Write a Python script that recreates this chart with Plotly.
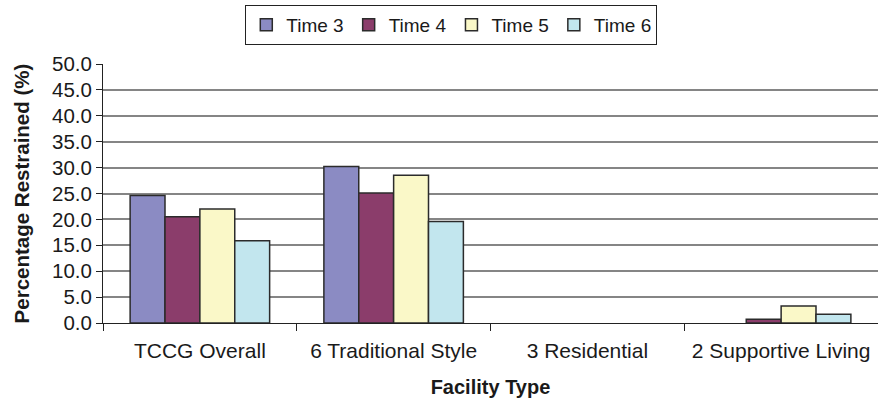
import plotly.graph_objects as go

categories = ["TCCG Overall", "6 Traditional Style", "3 Residential", "2 Supportive Living"]
series_names = ["Time 3", "Time 4", "Time 5", "Time 6"]
time3 = [24.6, 30.2, 0.0, 0.0]
time4 = [20.5, 25.1, 0.0, 0.7]
time5 = [22.0, 28.5, 0.0, 3.3]
time6 = [15.9, 19.6, 0.0, 1.7]
y_ticks = [0, 5, 10, 15, 20, 25, 30, 35, 40, 45, 50]

colors = ["#8B8BC3", "#8B3D6B", "#FAF8C8", "#C2E6EE"]
font = "Liberation Sans, Arial, sans-serif"

fig = go.Figure()
for name, vals, c in zip(series_names, [time3, time4, time5, time6], colors):
    fig.add_trace(go.Bar(
        x=categories, y=vals, name=name,
        marker=dict(color=c, line=dict(color="#2b2b2b",
                                       width=[1.5 if v > 0 else 0 for v in vals])),
    ))

fig.update_layout(
    width=878, height=403,
    margin=dict(l=103, r=0, t=64, b=80),
    paper_bgcolor="white", plot_bgcolor="white",
    barmode="group", bargap=0.28, bargroupgap=0,
    font=dict(family=font, size=20, color="#1a1a1a"),
    showlegend=True,
    legend=dict(
        orientation="h", xref="container", yref="container",
        x=0.514, xanchor="center", y=0.988, yanchor="top",
        bordercolor="#222", borderwidth=1, bgcolor="white",
        font=dict(family=font, size=19, color="#1a1a1a"),
        itemwidth=30, tracegroupgap=0,
    ),
    xaxis=dict(
        type="category", showline=True, linecolor="#222", linewidth=1,
        ticks="outside", tickson="boundaries", ticklen=7, tickcolor="#222",
        tickfont=dict(size=21), showgrid=False, ticklabelstandoff=9,
        title=dict(text="<b>Facility Type</b>", font=dict(size=20), standoff=18),
    ),
    yaxis=dict(
        range=[0, 50], tickvals=y_ticks, tickformat=".1f",
        showline=True, linecolor="#222", linewidth=1,
        ticks="outside", ticklen=6, tickcolor="#222",
        tickfont=dict(size=20.5),
        showgrid=True, gridcolor="#858585", gridwidth=1.5,
        zeroline=False,
        title=dict(text="<b>Percentage Restrained (%)</b>", font=dict(size=20.5), standoff=16),
    ),
)

fig.write_html("out.html")
